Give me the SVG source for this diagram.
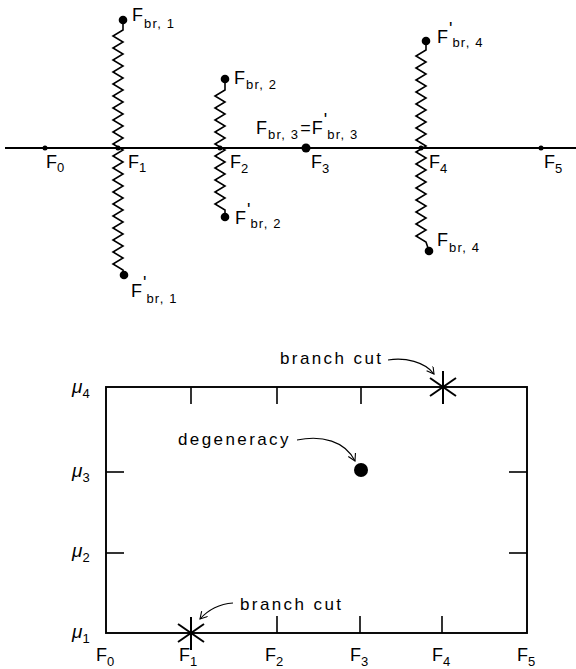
<svg xmlns="http://www.w3.org/2000/svg" width="576" height="669" viewBox="0 0 576 669">
<style>
text{font-family:"Liberation Sans",Arial,sans-serif;fill:#000}
.f{font-size:18px}
.s{font-size:13px;letter-spacing:1.2px}
.p{font-size:18px}
.w{font-size:17px;letter-spacing:2.4px}
.mu{font-size:19px;font-style:italic}
.ln{stroke:#000;stroke-width:1.9;fill:none}
.zz{stroke:#000;stroke-width:1.6;fill:none;stroke-linejoin:miter}
.ar{stroke:#000;stroke-width:1.1;fill:none}
.dot{fill:#000}
</style>
<defs>
<marker id="ah" markerWidth="10" markerHeight="10" refX="8" refY="4" orient="auto" markerUnits="userSpaceOnUse">
<path d="M1,0 L8,4 L1,8" fill="none" stroke="#000" stroke-width="1.1"/>
</marker>
</defs>

<g id="connectors">
<line class="ln" x1="5" y1="148" x2="576" y2="148"/>
<polyline id="cut1" class="zz" points="123,20 123,30 113,36 123,42 113,48 123,54 113,60 123,66 113,72 123,78 113,84 123,90 113,96 123,102 113,108 123,114 113,120 123,126 113,132 123,138 113,144 123,150 113,156 123,162 113,168 123,174 113,180 123,186 113,192 123,198 113,204 123,210 113,216 123,222 113,228 123,234 113,240 123,246 113,252 123,258 113,264 123,270 124,275"/>
<polyline id="cut2" class="zz" points="225,79 225,90 215,96 225,102 215,108 225,114 215,120 225,126 215,132 225,138 215,144 225,150 215,156 225,162 215,168 225,174 215,180 225,186 215,192 225,198 215,204 225,210 225,217"/>
<polyline id="cut4" class="zz" points="426,41 426,50 416,56 426,62 416,68 426,74 416,80 426,86 416,92 426,98 416,104 426,110 416,116 426,122 416,128 426,134 416,140 426,146 416,152 426,158 416,164 426,170 416,176 426,182 416,188 426,194 416,200 426,206 416,212 426,218 416,224 426,230 416,236 426,242 429,251"/>
<path class="ar" d="M297,440 C322,435 345,441 355,461" marker-end="url(#ah)"/>
<path class="ar" d="M388,360 C405,357 425,362 434,374" marker-end="url(#ah)"/>
<path class="ar" d="M233,603 C220,604 208,610 200,619" marker-end="url(#ah)"/>
</g>

<g id="F0"><circle class="dot" cx="45" cy="148" r="2.5"/><text class="f" x="46" y="168">F<tspan class="s" dy="4">0</tspan></text></g>
<g id="F1"><circle class="dot" cx="118" cy="148" r="2.5"/><text class="f" x="128" y="168">F<tspan class="s" dy="4">1</tspan></text></g>
<g id="F2"><circle class="dot" cx="220" cy="148" r="2.5"/><text class="f" x="230" y="168">F<tspan class="s" dy="5">2</tspan></text></g>
<g id="F3"><circle class="dot" cx="306" cy="148" r="4.5"/><text class="f" x="311" y="168">F<tspan class="s" dy="5">3</tspan></text></g>
<g id="F4"><circle class="dot" cx="421" cy="148" r="2.5"/><text class="f" x="429" y="168">F<tspan class="s" dy="5">4</tspan></text></g>
<g id="F5"><circle class="dot" cx="541" cy="148" r="2.5"/><text class="f" x="544" y="168">F<tspan class="s" dy="5">5</tspan></text></g>

<g id="Fbr1"><circle class="dot" cx="123" cy="20" r="4.3"/><text class="f" x="132" y="21">F<tspan class="s" dx="1" dy="7">br, 1</tspan></text></g>
<g id="Fbr1p"><circle class="dot" cx="124" cy="275" r="4.3"/><text class="f" x="131" y="297">F<tspan class="p" dx="1" dy="-8">'</tspan><tspan class="s" dy="14">br, 1</tspan></text></g>
<g id="Fbr2"><circle class="dot" cx="225" cy="79" r="4.3"/><text class="f" x="234" y="84">F<tspan class="s" dx="1" dy="5">br, 2</tspan></text></g>
<g id="Fbr2p"><circle class="dot" cx="225" cy="217" r="4.3"/><text class="f" x="235" y="224">F<tspan class="p" dx="1" dy="-8">'</tspan><tspan class="s" dy="12">br, 2</tspan></text></g>
<g id="Fbr3"><text class="f" x="256" y="134">F<tspan class="s" dx="1" dy="5">br, 3</tspan><tspan class="f" dx="1" dy="-5">=</tspan><tspan class="f" dx="1">F</tspan><tspan class="p" dx="1" dy="-8">'</tspan><tspan class="s" dy="13">br, 3</tspan></text></g>
<g id="Fbr4p"><circle class="dot" cx="426" cy="41" r="4.3"/><text class="f" x="437" y="43">F<tspan class="p" dx="1" dy="-8">'</tspan><tspan class="s" dy="12">br, 4</tspan></text></g>
<g id="Fbr4"><circle class="dot" cx="429" cy="251" r="4.3"/><text class="f" x="437" y="246">F<tspan class="s" dx="1" dy="6">br, 4</tspan></text></g>

<g id="plot">
<rect x="106" y="387" width="421" height="246" fill="none" stroke="#000" stroke-width="1.9"/>
<g stroke="#000" stroke-width="1.6">
<line x1="191" y1="387" x2="191" y2="404"/>
<line x1="277" y1="387" x2="277" y2="404"/>
<line x1="361" y1="387" x2="361" y2="404"/>
<line x1="277" y1="633" x2="277" y2="616"/>
<line x1="360" y1="633" x2="360" y2="616"/>
<line x1="442" y1="633" x2="442" y2="616"/>
<line x1="106" y1="472" x2="124" y2="472"/>
<line x1="106" y1="553" x2="124" y2="553"/>
<line x1="527" y1="472" x2="509" y2="472"/>
<line x1="527" y1="553" x2="509" y2="553"/>
</g>
</g>
<g id="branchcut_top">
<g stroke="#000" stroke-width="2"><line x1="443" y1="371" x2="443" y2="404"/><line x1="430" y1="378" x2="456" y2="396"/><line x1="430" y1="396" x2="456" y2="378"/></g>
<text class="w" x="280" y="364">branch cut</text>
</g>
<g id="branchcut_bottom">
<g stroke="#000" stroke-width="2"><line x1="191" y1="617" x2="191" y2="650"/><line x1="178" y1="624" x2="204" y2="642"/><line x1="178" y1="642" x2="204" y2="624"/></g>
<text class="w" x="240" y="610">branch cut</text>
</g>
<g id="degeneracy">
<circle class="dot" cx="361" cy="470" r="7"/>
<text class="w" x="178" y="445">degeneracy</text>
</g>
<g id="mu-labels">
<text x="72" y="393"><tspan class="mu">μ</tspan><tspan class="s" dy="5">4</tspan></text>
<text x="72" y="477"><tspan class="mu">μ</tspan><tspan class="s" dy="5">3</tspan></text>
<text x="72" y="557"><tspan class="mu">μ</tspan><tspan class="s" dy="5">2</tspan></text>
<text x="72" y="638"><tspan class="mu">μ</tspan><tspan class="s" dy="5">1</tspan></text>
</g>
<g id="F-axis">
<text class="f" x="96" y="661">F<tspan class="s" dy="5">0</tspan></text>
<text class="f" x="179" y="661">F<tspan class="s" dy="5">1</tspan></text>
<text class="f" x="265" y="661">F<tspan class="s" dy="5">2</tspan></text>
<text class="f" x="350" y="661">F<tspan class="s" dy="5">3</tspan></text>
<text class="f" x="432" y="661">F<tspan class="s" dy="5">4</tspan></text>
<text class="f" x="517" y="661">F<tspan class="s" dy="5">5</tspan></text>
</g>
</svg>
